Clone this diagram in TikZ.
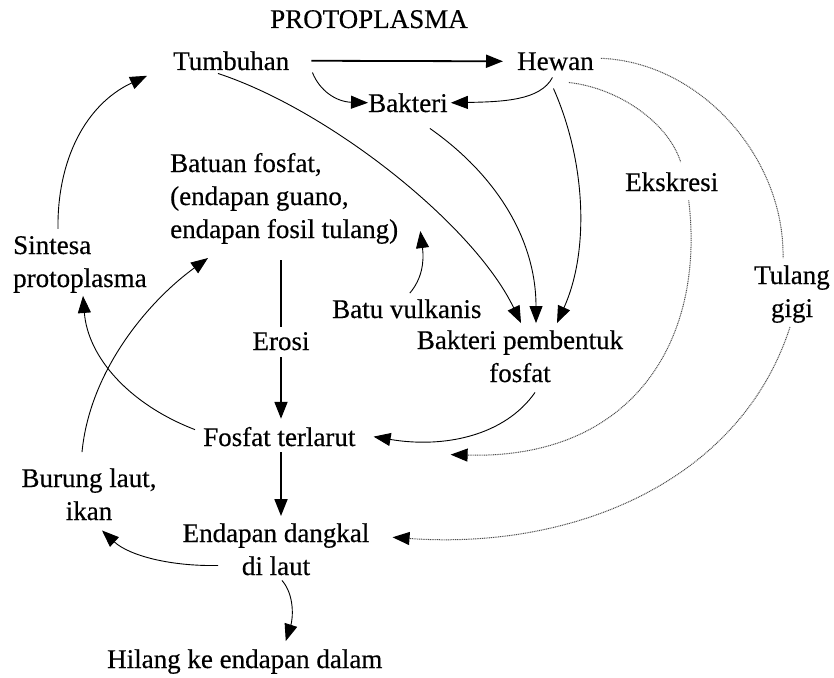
\documentclass[tikz,border=0pt]{standalone}
\usepackage{fontspec}
\setmainfont{Liberation Serif}[FakeBold=0.4]
\usetikzlibrary{arrows.meta}
\tikzset{
  lbl/.style={font=\fontsize{27}{33}\selectfont, inner sep=0pt},
  arr/.style={-{Triangle[length=17pt,width=13pt]}, line width=0.9pt},
  thk/.style={arr, line width=1.8pt},
  dots/.style={-{Triangle[length=17pt,width=13pt,color=black]}, line width=1pt, draw=black!70, dash pattern=on 1pt off 0.8pt},
}
\begin{document}
\begin{tikzpicture}[x=1pt,y=-1pt]
\useasboundingbox (0,0) rectangle (834,677);
% nodes (base anchor of a multi-line node = baseline of its last line)
\node[lbl, anchor=base west] (proto) at (270,28) {PROTOPLASMA};
\node[lbl, anchor=base west] (tumb) at (173,70) {Tumbuhan};
\node[lbl, anchor=base west] (hewan) at (517,70) {Hewan};
\node[lbl, anchor=base west] (bakt) at (368,112) {Bakteri};
\node[lbl, anchor=base west, align=left] (batuan) at (170,238) {Batuan fosfat,\\(endapan guano,\\endapan fosil tulang)};
\node[lbl, anchor=base west, align=left] (sintesa) at (13,287) {Sintesa\\protoplasma};
\node[lbl, anchor=base west] (vulk) at (332,318) {Batu vulkanis};
\node[lbl, anchor=base, align=center] (bpf) at (520,382) {Bakteri pembentuk\\fosfat};
\node[lbl, anchor=base] (erosi) at (281,350) {Erosi};
\node[lbl, anchor=base west] (terlarut) at (203,446) {Fosfat terlarut};
\node[lbl, anchor=base west] (ekskresi) at (625,191) {Ekskresi};
\node[lbl, anchor=base, align=center] (tulang) at (792,317) {Tulang\\gigi};
\node[lbl, anchor=base, align=center] (burung) at (89,520) {Burung laut,\\ikan};
\node[lbl, anchor=base, align=center] (dangkal) at (276,575) {Endapan dangkal\\di laut};
\node[lbl, anchor=base west] (hilang) at (107,668) {Hilang ke endapan dalam};

% connectors
\draw[thk] ([xshift=22pt]tumb.east) -- ([xshift=-14pt]hewan.west);
\draw[arr] ([xshift=23pt,yshift=-2pt]tumb.south east) .. controls +(7,18) and +(-32,-1) .. (bakt.west);
\draw[arr] ([xshift=-3pt,yshift=-7pt]hewan.south) .. controls +(-12,23) and +(52,-1) .. ([xshift=3pt]bakt.east);
% into Bakteri pembentuk fosfat
\draw[arr] ([xshift=45pt,yshift=-3pt]tumb.south west) .. controls +(112,37) and +(-47,-98) .. ([xshift=1pt,yshift=7pt]bpf.north);
\draw[arr] ([xshift=22pt,yshift=-16pt]bakt.south) .. controls +(67,47) and +(0,-83) .. ([xshift=16pt,yshift=7pt]bpf.north);
\draw[arr] ([xshift=-2pt,yshift=-18pt]hewan.south) .. controls +(32,72) and +(33,-73) .. ([xshift=37pt,yshift=7pt]bpf.north);
% Batu vulkanis -> Batuan fosfat
\draw[arr] ([xshift=3pt,yshift=6pt]vulk.north) .. controls +(12,-14) and +(4,31) .. ([xshift=22pt,yshift=13pt]batuan.south east);
% Erosi
\draw[line width=1.8pt] ([yshift=-16pt]batuan.south -| erosi.north) -- ([yshift=5pt]erosi.north);
\draw[thk] ([yshift=-7pt]erosi.south) -- ([yshift=8pt]terlarut.north -| erosi.south);
% Bakteri pembentuk fosfat -> Fosfat terlarut
\draw[arr] ([xshift=15pt,yshift=-10pt]bpf.south) .. controls +(-30,43) and +(71,12) .. ([xshift=18pt]terlarut.east);
% Ekskresi (dotted)
\draw[dots, -] ([xshift=-25pt,yshift=-12pt]hewan.south east) .. controls +(52,6) and +(-12,-38) .. ([xshift=9pt,yshift=10pt]ekskresi.north);
\draw[dots] ([xshift=17pt,yshift=-9pt]ekskresi.south) .. controls +(17,140) and +(182,5) .. ([xshift=95pt,yshift=-18pt]terlarut.east);
% Tulang gigi (dotted)
\draw[dots, -] ([xshift=7pt,yshift=3pt]hewan.east) .. controls +(100,4) and +(2,-100) .. ([xshift=-9pt,yshift=7pt]tulang.north);
\draw[dots] ([xshift=-2pt,yshift=-4pt]tulang.south) .. controls +(-50,155) and +(180,13) .. ([xshift=23pt,yshift=12pt]dangkal.east);
% Fosfat terlarut -> Sintesa protoplasma
\draw[arr] ([xshift=-8pt,yshift=7pt]terlarut.west) .. controls +(-65,-25) and +(5,62) .. ([xshift=70pt,yshift=-3pt]sintesa.south west);
% Burung laut -> Batuan fosfat
\draw[arr] ([xshift=-7pt,yshift=16pt]burung.north) .. controls +(8,-83) and +(-58,42) .. ([xshift=38pt,yshift=-14pt]batuan.south west);
% Sintesa -> Tumbuhan
\draw[arr] ([xshift=45pt,yshift=7pt]sintesa.north west) .. controls +(-1,-68) and +(-62,29) .. ([xshift=-26pt,yshift=-15pt]tumb.west);
% Fosfat terlarut -> Endapan dangkal
\draw[thk] ([yshift=-6pt]terlarut.south -| erosi.south) -- ([yshift=7pt]dangkal.north -| erosi.south);
% Endapan dangkal -> Burung laut
\draw[arr] ([xshift=-58pt,yshift=10pt]dangkal.south) .. controls +(-48,1) and +(27,25) .. ([xshift=13pt,yshift=-10pt]burung.south);
% Endapan dangkal -> Hilang
\draw[arr] ([xshift=6pt,yshift=-5pt]dangkal.south) .. controls +(13,15) and +(7,-22) .. ([xshift=41pt,yshift=8pt]hilang.north);
\end{tikzpicture}
\end{document}
